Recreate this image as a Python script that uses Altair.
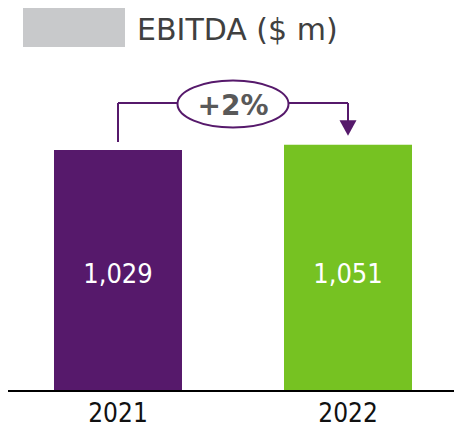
import altair as alt
import pandas as pd

years = ["2021", "2022"]
values = [1029, 1051]
colors = ["#56196B", "#76C222"]
title_text = "EBITDA ($ m)"
change_text = "+{}%".format(round((values[1] / values[0] - 1) * 100))

df = pd.DataFrame({"year": years, "value": values, "color": colors})

W, H = 446, 421
x_scale = alt.Scale(domain=years, paddingInner=0.4435, paddingOuter=0.1913, align=0.5227)
y_scale = alt.Scale(domain=[-162.2, 1635.3], nice=False, zero=False)
X = alt.X("year:N", scale=x_scale, axis=None)

base = alt.Chart(df)

bars = base.mark_bar().encode(
    x=X,
    y=alt.Y("value:Q", scale=y_scale, axis=None),
    y2=alt.datum(0),
    color=alt.Color("color:N", scale=None, legend=None),
)

baseline = base.mark_rule(color="#000000", strokeWidth=2).encode(
    x=alt.value(0), x2=alt.value(W), y=alt.value(383)
)

value_labels = base.mark_text(
    font="DejaVu Sans Condensed", fontSize=27, color="white", baseline="alphabetic", align="center"
).encode(x=X, y=alt.value(275), text=alt.Text("value:Q", format=","))

year_labels = base.mark_text(
    font="DejaVu Sans Condensed", fontSize=26, color="#111111", baseline="alphabetic", align="center"
).encode(x=X, y=alt.value(414), text="year:N")

# connector
left_df = df[df.year == years[0]]
right_df = df[df.year == years[1]]
conn_color = "#56196B"
v_left = alt.Chart(left_df).mark_rule(color=conn_color, strokeWidth=2).encode(
    x=X, y=alt.value(134), y2=alt.value(95)
)
v_right = alt.Chart(right_df).mark_rule(color=conn_color, strokeWidth=2).encode(
    x=X, y=alt.value(95), y2=alt.value(114)
)
h_line = alt.Chart(left_df).mark_rule(color=conn_color, strokeWidth=2).encode(
    x=alt.value(110), x2=alt.value(340), y=alt.value(95)
)
arrow = alt.Chart(right_df).mark_point(
    shape="M -1 -0.9 L 1 -0.9 L 0 0.9 Z", size=289, filled=True, color=conn_color, opacity=1
).encode(x=X, y=alt.value(120))

ellipse = alt.Chart(left_df).mark_point(
    shape="M -1 0 A 1 0.423 0 1 1 1 0 A 1 0.423 0 1 1 -1 0 Z",
    size=111 * 111,
    filled=False,
    fill="white",
    fillOpacity=1,
    stroke=conn_color,
    strokeWidth=2,
    opacity=1,
).encode(x=alt.value(225), y=alt.value(96))

change_label = alt.Chart(left_df).mark_text(
    font="DejaVu Sans", fontWeight="bold", fontSize=28, color="#595959", baseline="alphabetic", align="center"
).encode(x=alt.value(225), y=alt.value(107), text=alt.value(change_text))

legend_box = alt.Chart(left_df).mark_rect(color="#C8C9CB").encode(
    x=alt.value(15), x2=alt.value(117), y=alt.value(0), y2=alt.value(39)
)
title = alt.Chart(left_df).mark_text(
    font="DejaVu Sans", fontSize=30, color="#404040", baseline="alphabetic", align="left"
).encode(x=alt.value(129), y=alt.value(32), text=alt.value(title_text))

chart = alt.layer(
    bars, baseline, value_labels, year_labels,
    v_left, v_right, h_line, arrow, ellipse, change_label,
    legend_box, title,
).properties(
    width=W, height=H, autosize=alt.AutoSizeParams(type="none"), padding=0
).configure_view(stroke=None)

chart.save("out.html", embed_options={"renderer": "svg", "actions": False})
